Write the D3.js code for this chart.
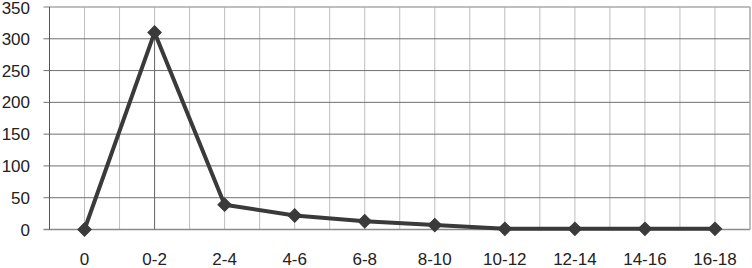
<!DOCTYPE html>
<html><head><meta charset="utf-8">
<script src="https://cdn.jsdelivr.net/npm/d3@7"></script>
<style>body{margin:0;background:#fff}svg{display:block}</style>
</head><body><svg id="c" width="752" height="268"></svg>
<script>
const categories = ["0","0-2","2-4","4-6","6-8","8-10","10-12","12-14","14-16","16-18"];
const values = [0, 310, 39, 22, 13, 7, 1, 1, 1, 1];
const yTicks = [0, 50, 100, 150, 200, 250, 300, 350];

const svg = d3.select("#c");
const pLeft = 49.5, pRight = 750, pTop = 7, pBottom = 229.5;
const x = d3.scaleBand().domain(categories).range([pLeft, pRight]).padding(0);
const y = d3.scaleLinear().domain([0, 350]).range([pBottom, pTop]);
const font = "'Liberation Sans', Arial, sans-serif";
const cx = c => x(c) + x.bandwidth() / 2;

// vertical gridlines at band centers and boundaries
const vlines = [];
categories.forEach(c => { vlines.push(x(c)); vlines.push(cx(c)); });
svg.append("g").selectAll("line").data(vlines).join("line")
  .attr("x1", d => d).attr("x2", d => d).attr("y1", pTop).attr("y2", pBottom)
  .attr("stroke", "#bdbdbd").attr("stroke-width", 1);

// horizontal gridlines
svg.append("g").selectAll("line").data(yTicks).join("line")
  .attr("x1", pLeft - 6).attr("x2", pRight).attr("y1", d => y(d)).attr("y2", d => y(d))
  .attr("stroke", d => d === 350 ? "#a8a8a8" : (d === 0 ? "#8a8a8a" : "#707070"))
  .attr("stroke-width", d => (d === 350 || d === 0) ? 1.5 : 1);

// right border
svg.append("line").attr("x1", pRight).attr("x2", pRight).attr("y1", pTop).attr("y2", pBottom)
  .attr("stroke", "#a8a8a8").attr("stroke-width", 1.5);
// y axis line
svg.append("line").attr("x1", pLeft).attr("x2", pLeft).attr("y1", pTop).attr("y2", pBottom)
  .attr("stroke", "#555").attr("stroke-width", 1);
// darker drop line at 0-2
svg.append("line").attr("x1", cx("0-2")).attr("x2", cx("0-2"))
  .attr("y1", y(values[1])).attr("y2", pBottom).attr("stroke", "#6a6a6a").attr("stroke-width", 1);

// y labels
svg.append("g").selectAll("text").data(yTicks).join("text")
  .attr("x", 30).attr("y", d => y(d) + (d === 350 ? 1 : 0)).attr("dy", "0.36em")
  .attr("text-anchor", "end").attr("font-family", font).attr("font-size", 17)
  .attr("fill", "#222").text(d => d);

// x labels
svg.append("g").selectAll("text").data(categories).join("text")
  .attr("x", d => cx(d)).attr("y", 265)
  .attr("text-anchor", "middle").attr("font-family", font).attr("font-size", 17)
  .attr("fill", "#222").text(d => d);

// line
const line = d3.line().x((d, i) => cx(categories[i])).y(d => y(d));
svg.append("path").datum(values).attr("d", line)
  .attr("fill", "none").attr("stroke", "#3a3a3a").attr("stroke-width", 4)
  .attr("stroke-linejoin", "round");

// markers
svg.append("g").selectAll("path").data(values).join("path")
  .attr("transform", (d, i) => `translate(${cx(categories[i])},${y(d)}) rotate(45)`)
  .attr("d", d3.symbol().type(d3.symbolSquare).size(90))
  .attr("fill", "#3a3a3a").attr("stroke", "#3a3a3a").attr("stroke-width", 1);
</script></body></html>
